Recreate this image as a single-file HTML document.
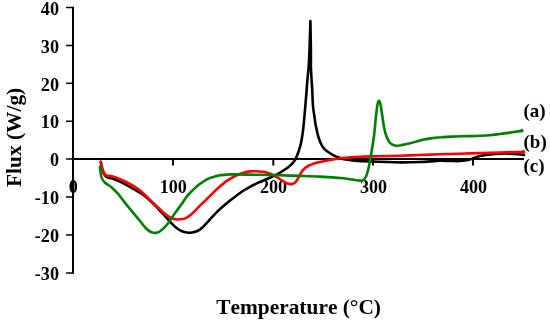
<!DOCTYPE html>
<html><head><meta charset="utf-8">
<style>
html,body{margin:0;padding:0;background:#fff;}
svg{display:block}
text{font-family:"Liberation Serif",serif;font-weight:bold;fill:#000;font-kerning:none}
</style></head>
<body>
<svg width="550" height="322" viewBox="0 0 550 322">
<rect width="550" height="322" fill="#fff"/>
<g stroke="#000" stroke-width="2" fill="none">
<path d="M73 6.65V273.65"/>
<path d="M73 159H524"/>
<path stroke-width="1.5" d="M66 7.4H73M66 45.4H73M66 83.3H73M66 121.2H73M66 159H73M66 197H73M66 234.9H73M66 272.9H73"/>
<path d="M173 159V165.6M273.3 159V165.6M373 159V165.6M473 159V165.6"/>
</g>
<g font-size="18.2" text-anchor="end">
<text x="59" y="15.2">40</text>
<text x="59" y="53.2">30</text>
<text x="59" y="90.7">20</text>
<text x="59" y="127.9">10</text>
<text x="59" y="166.2">0</text>
<text x="59" y="204.4">-10</text>
<text x="59" y="242.4">-20</text>
<text x="59" y="280.2">-30</text>
</g>
<g font-size="18.1" text-anchor="middle">
<text x="73.2" y="192.6">0</text>
<text x="173.3" y="192.6">100</text>
<text x="273.5" y="192.6">200</text>
<text x="373.5" y="192.6">300</text>
<text x="473.5" y="192.6">400</text>
</g>
<text x="298.6" y="313.5" font-size="21.4" text-anchor="middle">Temperature (°C)</text>
<text transform="translate(20.9,137.4) rotate(-90)" font-size="21.4" text-anchor="middle">Flux (W/g)</text>
<g font-size="19">
<text x="523.5" y="117">(a)</text>
<text x="523.5" y="148.4">(b)</text>
<text x="523.5" y="172.1">(c)</text>
</g>
<g fill="none" stroke-width="2.6" stroke-linejoin="round" stroke-linecap="round">
<path stroke="#000" d="M100.8 161.8C100.9 162.3 101.0 163.7 101.3 165.0C101.5 166.3 101.9 168.1 102.3 169.5C102.7 170.9 103.2 172.3 103.8 173.5C104.4 174.7 105.0 175.8 106.0 176.6C107.0 177.3 108.7 177.6 110.0 178.0C111.3 178.4 112.0 178.4 114.0 179.2C116.0 180.0 119.3 181.3 122.0 182.6C124.7 183.9 127.0 185.2 130.0 186.9C133.0 188.6 137.8 191.3 140.0 192.6C142.2 193.9 141.5 193.5 143.2 194.8C144.9 196.1 147.9 198.7 150.0 200.6C152.1 202.5 154.1 204.4 156.0 206.4C157.9 208.4 159.8 210.5 161.6 212.4C163.4 214.3 165.0 216.0 166.7 217.9C168.4 219.8 170.1 221.9 171.8 223.6C173.5 225.3 175.2 227.0 176.9 228.3C178.6 229.6 180.3 230.6 182.0 231.3C183.7 232.0 185.4 232.3 187.1 232.5C188.8 232.7 190.5 232.8 192.2 232.5C193.9 232.2 195.6 231.8 197.3 231.0C199.0 230.2 200.7 229.0 202.4 227.5C204.1 226.0 205.9 223.9 207.5 222.2C209.1 220.5 210.4 218.9 212.0 217.2C213.6 215.5 215.3 213.5 217.0 211.8C218.7 210.1 220.3 208.7 222.0 207.2C223.7 205.7 225.4 204.2 227.0 202.9C228.6 201.6 229.8 200.8 231.5 199.5C233.2 198.2 235.3 196.5 237.3 195.0C239.3 193.5 241.5 191.9 243.6 190.5C245.7 189.1 247.3 188.2 250.0 186.8C252.7 185.4 256.7 183.4 260.0 181.9C263.3 180.4 267.3 178.9 270.0 177.7C272.7 176.5 274.3 175.8 276.4 174.7C278.5 173.6 280.6 172.4 282.7 171.0C284.8 169.6 287.2 168.2 289.1 166.5C291.1 164.8 293.0 163.1 294.4 161.0C295.8 158.9 296.8 156.4 297.7 154.0C298.6 151.6 299.5 148.7 300.1 146.4C300.8 144.1 301.1 142.9 301.6 140.0C302.1 137.1 302.6 134.0 303.2 129.0C303.8 124.0 304.4 116.7 305.0 110.0C305.6 103.3 306.2 94.5 306.7 89.0C307.1 83.5 307.4 80.8 307.7 77.0C308.0 73.2 308.4 70.5 308.7 66.0C309.0 61.5 309.2 57.5 309.5 50.0C309.8 42.5 310.2 25.8 310.4 21.0L310.4 21.0C310.5 25.8 310.8 42.5 310.9 50.0C311.0 57.5 310.9 61.5 310.9 66.0C311.0 70.5 311.2 73.2 311.4 77.0C311.6 80.8 311.9 84.3 312.2 89.0C312.4 93.7 312.6 100.6 312.9 105.0C313.2 109.4 313.8 112.0 314.2 115.2C314.6 118.4 315.0 121.1 315.5 124.1C316.0 127.1 316.8 130.4 317.4 133.0C318.0 135.6 318.6 137.6 319.3 139.6C320.0 141.6 320.8 143.5 321.6 145.0C322.4 146.5 323.3 147.7 324.3 148.8C325.3 149.9 326.2 150.6 327.8 151.7C329.4 152.8 331.6 154.3 333.6 155.3C335.6 156.3 337.9 157.1 340.0 157.8C342.1 158.5 343.7 159.1 346.0 159.6C348.3 160.1 350.0 160.3 354.0 160.6C358.0 160.9 362.3 161.2 370.0 161.5C377.7 161.8 391.7 162.3 400.0 162.4C408.3 162.5 413.3 162.3 420.0 162.0C426.7 161.7 435.0 161.0 440.0 160.8C445.0 160.6 446.7 161.0 450.0 161.0C453.3 161.0 457.0 161.2 460.0 161.0C463.0 160.8 465.7 160.5 468.0 160.0C470.3 159.5 472.0 158.7 474.0 158.0C476.0 157.3 477.3 156.6 480.0 156.0C482.7 155.4 486.7 154.8 490.0 154.4C493.3 154.0 496.7 153.7 500.0 153.6C503.3 153.5 506.7 153.5 510.0 153.6C513.3 153.7 517.7 154.2 520.0 154.4C522.3 154.6 523.3 154.9 524.0 155.0"/>
<path stroke="#f00" d="M100.8 161.8C100.9 162.3 101.2 163.8 101.5 165.0C101.8 166.2 102.1 167.7 102.5 169.0C102.9 170.3 103.3 171.9 104.0 173.0C104.7 174.1 105.3 175.0 106.5 175.5C107.7 176.0 109.2 175.6 111.0 176.0C112.8 176.4 115.0 177.2 117.0 178.0C119.0 178.8 121.0 179.6 123.0 180.5C125.0 181.4 127.1 182.5 129.0 183.5C130.9 184.5 132.7 185.5 134.5 186.7C136.3 187.9 138.1 189.0 140.0 190.6C141.9 192.2 143.9 194.0 146.0 196.0C148.1 198.0 150.3 200.2 152.7 202.5C155.1 204.8 158.3 207.9 160.4 209.8C162.5 211.8 163.8 212.9 165.5 214.2C167.2 215.5 168.8 216.9 170.5 217.7C172.2 218.5 173.9 218.9 175.6 219.2C177.3 219.5 179.0 219.5 180.7 219.3C182.4 219.1 184.1 218.8 185.8 218.1C187.5 217.3 189.3 216.1 190.9 214.8C192.5 213.5 193.8 211.9 195.4 210.3C197.0 208.7 198.8 206.9 200.5 205.2C202.2 203.5 203.6 202.2 205.5 200.3C207.4 198.5 209.7 196.2 211.8 194.1C213.9 192.0 216.1 189.9 218.2 188.0C220.3 186.1 222.4 184.2 224.5 182.6C226.6 181.0 228.8 179.7 230.9 178.4C233.0 177.1 235.2 175.9 237.3 175.0C239.4 174.1 241.5 173.4 243.6 172.8C245.7 172.2 247.9 171.7 250.0 171.4C252.1 171.2 254.2 171.2 256.0 171.3C257.8 171.4 259.5 171.6 261.0 171.7C262.5 171.8 263.0 171.5 265.0 172.1C267.0 172.7 270.7 173.9 273.0 175.0C275.3 176.1 277.0 177.3 279.0 178.5C281.0 179.7 283.3 181.4 285.0 182.3C286.7 183.2 287.7 183.7 289.0 183.9C290.3 184.2 291.8 184.2 293.0 183.8C294.2 183.4 295.0 182.8 296.0 181.6C297.0 180.4 298.2 178.1 299.0 176.7C299.8 175.3 300.2 174.3 301.0 173.0C301.8 171.7 302.8 170.2 304.0 169.0C305.2 167.8 306.3 166.9 308.0 166.0C309.7 165.1 312.0 164.3 314.0 163.6C316.0 162.9 317.3 162.6 320.0 162.0C322.7 161.4 326.7 160.6 330.0 160.0C333.3 159.4 336.7 158.6 340.0 158.2C343.3 157.8 346.7 157.7 350.0 157.4C353.3 157.2 355.0 156.9 360.0 156.7C365.0 156.5 373.3 156.4 380.0 156.2C386.7 156.0 393.3 155.9 400.0 155.7C406.7 155.5 413.3 155.2 420.0 155.0C426.7 154.8 433.3 154.5 440.0 154.3C446.7 154.1 453.3 153.9 460.0 153.7C466.7 153.5 473.3 153.3 480.0 153.1C486.7 152.9 493.3 152.8 500.0 152.6C506.7 152.4 516.1 152.2 520.0 152.1C523.9 152.0 523.0 152.0 523.6 152.0"/>
<path stroke="#008000" d="M100.0 166.5C100.1 167.4 100.2 170.2 100.5 172.0C100.8 173.8 101.1 175.6 101.5 177.0C101.9 178.4 102.4 179.5 103.0 180.4C103.6 181.3 104.2 182.0 105.0 182.7C105.8 183.4 106.9 184.1 108.0 184.8C109.1 185.6 109.8 185.8 111.4 187.2C113.0 188.6 115.6 191.0 117.7 193.4C119.8 195.8 122.0 198.9 124.1 201.6C126.2 204.3 128.7 207.3 130.5 209.5C132.3 211.7 133.4 213.1 135.0 215.0C136.6 216.9 138.5 219.2 140.0 221.0C141.5 222.8 142.7 224.5 144.0 226.0C145.3 227.5 146.3 228.8 147.6 229.8C148.8 230.9 150.2 231.8 151.5 232.3C152.8 232.8 154.0 233.0 155.3 232.9C156.6 232.8 157.8 232.6 159.1 231.9C160.4 231.2 161.6 230.1 162.9 228.9C164.2 227.8 165.4 226.5 166.7 225.0C168.0 223.5 169.0 221.8 170.5 219.7C172.0 217.6 173.7 215.0 175.6 212.3C177.5 209.6 180.2 206.2 182.0 203.6C183.8 201.0 185.2 198.6 186.4 196.9C187.7 195.2 188.4 194.6 189.5 193.5C190.6 192.4 191.5 191.3 192.7 190.2C193.8 189.1 195.2 187.9 196.4 186.8C197.6 185.7 198.6 184.9 200.1 183.8C201.6 182.7 203.5 181.3 205.2 180.3C206.9 179.3 208.6 178.6 210.3 177.9C212.0 177.2 213.7 176.8 215.4 176.3C217.1 175.9 217.9 175.5 220.5 175.2C223.1 174.9 226.0 174.5 230.9 174.4C235.8 174.3 245.2 174.5 250.0 174.6C254.8 174.7 255.0 174.7 260.0 174.8C265.0 174.9 273.3 175.1 280.0 175.3C286.7 175.5 293.3 175.7 300.0 175.9C306.7 176.1 313.3 176.2 320.0 176.6C326.7 176.9 335.0 177.6 340.0 178.0C345.0 178.4 346.7 178.8 350.0 179.2C353.3 179.6 357.8 180.4 360.0 180.6C362.2 180.8 362.0 181.0 363.0 180.3C364.0 179.6 365.2 178.1 366.0 176.5C366.8 174.9 367.3 173.1 368.0 170.5C368.7 167.9 369.3 164.6 370.0 161.0C370.7 157.4 371.3 153.2 372.0 149.0C372.7 144.8 373.3 141.5 374.0 136.0C374.7 130.5 375.4 121.3 376.0 116.0C376.6 110.7 377.1 106.5 377.6 104.0C378.1 101.5 378.5 100.9 379.0 100.9C379.5 100.9 379.9 101.8 380.4 104.0C380.9 106.2 381.4 110.2 382.0 114.0C382.6 117.8 383.3 123.5 384.0 127.0C384.7 130.5 385.2 132.6 386.0 135.0C386.8 137.4 388.0 140.0 389.0 141.6C390.0 143.2 390.8 143.7 392.0 144.4C393.2 145.1 394.5 145.6 396.0 145.7C397.5 145.8 398.8 145.5 401.0 145.2C403.2 144.8 406.0 144.3 409.0 143.6C412.0 142.8 415.7 141.5 419.0 140.7C422.3 139.9 425.3 139.2 429.0 138.6C432.7 138.0 436.7 137.5 441.0 137.2C445.3 136.8 451.0 136.7 455.0 136.5C459.0 136.3 460.8 136.3 465.0 136.2C469.2 136.1 475.8 136.0 480.0 135.8C484.2 135.6 486.7 135.5 490.0 135.2C493.3 134.9 496.7 134.4 500.0 134.0C503.3 133.6 506.7 133.1 510.0 132.6C513.3 132.1 518.0 131.4 520.0 131.1C522.0 130.8 521.7 130.8 522.0 130.7"/>
</g>
<circle cx="523.4" cy="152" r="1.9" fill="#f00"/>
<circle cx="521.8" cy="130.7" r="1.8" fill="#008000"/>
</svg>
</body></html>
